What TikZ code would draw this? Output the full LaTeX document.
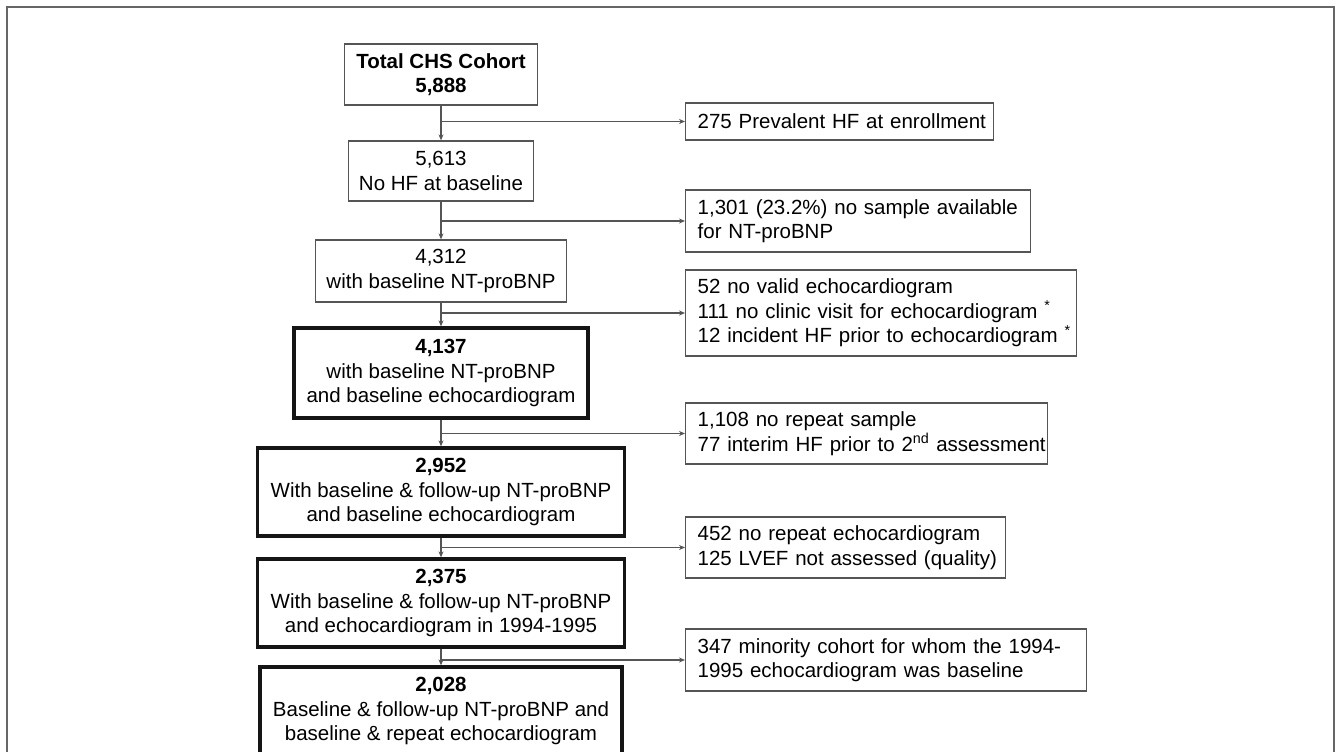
\documentclass[tikz,border=0pt]{standalone}
\usepackage{fontspec}
\setmainfont{Liberation Sans}
\usetikzlibrary{arrows.meta}
\definecolor{thincol}{HTML}{555555}
\definecolor{thickcol}{HTML}{151515}
\definecolor{framecol}{HTML}{666666}
\newcommand{\boxline}[1]{\mbox{#1}}
\tikzset{
  mainbox/.style={draw=thincol, line width=1.3pt, align=center, inner sep=0pt,
    font=\fontsize{20.5}{24.5}\selectfont},
  keybox/.style={draw=thickcol, line width=3.3pt, align=center, inner sep=0pt,
    font=\fontsize{20.5}{24.5}\selectfont},
  sidebox/.style={draw=thincol, line width=1.3pt, align=left, inner xsep=12pt, inner ysep=0pt,
    font=\fontsize{20.5}{24.5}\selectfont},
  conn/.style={draw=thincol, line width=1.4pt},
  arr/.style={conn, -{Stealth[length=6pt,width=5pt]}}
}
\begin{document}
\begin{tikzpicture}[x=1pt,y=-1pt]
\useasboundingbox (0,0) rectangle (1339,752);
\clip (0,0) rectangle (1339,752);
\fill[white] (0,0) rectangle (1339,752);
\draw[framecol, line width=2pt] (7,760) -- (7,7) -- (1334,7) -- (1334,760);

% main column
\node[mainbox, minimum width=193pt, minimum height=61pt] (B1) at (441,74.5)
  {\textbf{Total CHS Cohort}\\\textbf{5,888}};
\node[mainbox, minimum width=185pt, minimum height=60pt] (B2) at (441,171)
  {5,613\\No HF at baseline};
\node[mainbox, minimum width=251pt, minimum height=62pt] (B3) at (441,271)
  {4,312\\with baseline NT-proBNP};
\node[keybox, minimum width=294pt, minimum height=90pt] (B4) at (441,373)
  {\textbf{4,137}\\with baseline NT-proBNP\\and baseline echocardiogram};
\node[keybox, minimum width=367pt, minimum height=88pt] (B5) at (441,492)
  {\textbf{2,952}\\With baseline \& follow-up NT-proBNP\\and baseline echocardiogram};
\node[keybox, minimum width=367pt, minimum height=88pt] (B6) at (441,603)
  {\textbf{2,375}\\With baseline \& follow-up NT-proBNP\\and echocardiogram in 1994-1995};
\node[keybox, minimum width=362pt, minimum height=88pt] (B7) at (441,711)
  {\textbf{2,028}\\Baseline \& follow-up NT-proBNP and\\baseline \& repeat echocardiogram};

% side column
\node[sidebox, text width=284pt, minimum height=37pt, anchor=west] (R1) at (685,121.5)
  {\boxline{275 Prevalent HF at enrollment}};
\node[sidebox, text width=321pt, minimum height=62pt, anchor=west] (R2) at (685,221)
  {\boxline{1,301 (23.2\%) no sample available}\\\boxline{for NT-proBNP}};
\node[sidebox, text width=367pt, minimum height=86pt, anchor=west] (R3) at (685,313)
  {\boxline{52 no valid echocardiogram}\\\boxline{111 no clinic visit for echocardiogram \textsuperscript{*}}\\\boxline{12 incident HF prior to echocardiogram \textsuperscript{*}}};
\node[sidebox, text width=338pt, minimum height=61pt, anchor=west] (R4) at (685,433.5)
  {\boxline{1,108 no repeat sample}\\\boxline{77 interim HF prior to 2\textsuperscript{nd} assessment}};
\node[sidebox, text width=296pt, minimum height=61pt, anchor=west] (R5) at (685,547.5)
  {\boxline{452 no repeat echocardiogram}\\\boxline{125 LVEF not assessed (quality)}};
\node[sidebox, text width=377pt, minimum height=62pt, anchor=west] (R6) at (685,660)
  {\boxline{347 minority cohort for whom the 1994-}\\\boxline{1995 echocardiogram was baseline}};

% vertical connectors
\draw[arr] (B1.south) -- (B2.north);
\draw[arr] (B2.south) -- (B3.north);
\draw[arr] (B3.south) -- (B4.north);
\draw[arr] (B4.south) -- (B5.north);
\draw[arr] (B5.south) -- (B6.north);
\draw[arr] (B6.south) -- (B7.north);

% side branches
\draw[arr] (B1.south |- R1.west) -- (R1.west);
\draw[arr] (B2.south |- R2.west) -- (R2.west);
\draw[arr] (B3.south |- R3.west) -- (R3.west);
\draw[arr] (B4.south |- R4.west) -- (R4.west);
\draw[arr] (B5.south |- R5.west) -- (R5.west);
\draw[arr] (B6.south |- R6.west) -- (R6.west);
\end{tikzpicture}
\end{document}
